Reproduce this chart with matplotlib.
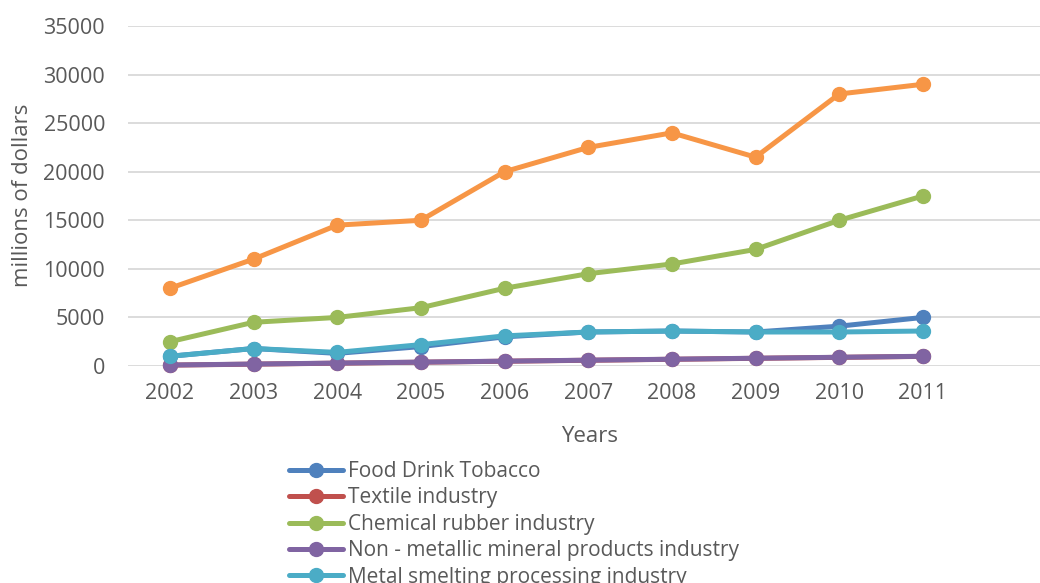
import matplotlib
matplotlib.use("Agg")
import matplotlib.pyplot as plt

years = ["2002", "2003", "2004", "2005", "2006", "2007", "2008", "2009", "2010", "2011"]
food = [1000, 1800, 1300, 2000, 3000, 3500, 3600, 3500, 4100, 5000]
textile = [90, 190, 290, 390, 490, 590, 690, 790, 890, 990]
chemical = [2500, 4500, 5000, 6000, 8000, 9500, 10500, 12000, 15000, 17500]
nonmetal = [100, 200, 300, 400, 500, 600, 700, 800, 900, 1000]
metal = [1000, 1800, 1400, 2200, 3100, 3500, 3600, 3500, 3500, 3600]
machinery = [8000, 11000, 14500, 15000, 20000, 22500, 24000, 21500, 28000, 29000]

names = ["Food Drink Tobacco", "Textile industry", "Chemical rubber industry",
         "Non - metallic mineral products industry", "Metal smelting processing industry",
         "Machinery equipment industry"]
series = [food, textile, chemical, nonmetal, metal, machinery]
colors = ["#4F81BD", "#C0504D", "#9BBB59", "#8064A2", "#4BACC6", "#F79646"]

plt.rcParams['font.family'] = ['Open Sans', 'DejaVu Sans']
txt = "#595959"

W, H = 1040, 583
fig = plt.figure(figsize=(W / 100, H / 100), dpi=100)
ax = fig.add_axes([128 / W, (H - 366) / H, (W - 128) / W, 340 / H])

x = list(range(len(years)))
handles = []
for s, c, n in zip(series, colors, names):
    h, = ax.plot(x, s, color=c, lw=3.6, marker='o', ms=10, label=n,
                 solid_capstyle='round', solid_joinstyle='round', clip_on=False)
    handles.append(h)

ax.set_xlim(-0.5, 10.4)
ax.set_ylim(0, 35000)
ax.set_yticks(range(0, 35001, 5000))
ax.set_xticks(x)
ax.set_xticklabels(years)
ax.yaxis.grid(True, color="#D9D9D9", lw=1.3)
ax.set_axisbelow(True)
for sp in ax.spines.values():
    sp.set_visible(False)
ax.tick_params(axis='both', length=0, labelsize=15.5, colors=txt)
ax.tick_params(axis='y', pad=16.5)
ax.tick_params(axis='x', pad=12)

fig.text(590 / W, 1 - 436 / H, "Years", ha='center', va='center', fontsize=16, color=txt)
fig.text(23 / W, 1 - 195 / H, "millions of dollars", ha='center', va='center', fontsize=16,
         color=txt, rotation=90)

fig.legend(handles=handles, loc='upper left', bbox_to_anchor=(289 / W, 1 - 461 / H),
           frameon=False, fontsize=15, labelcolor=txt, handlelength=2.6,
           handletextpad=0.25, labelspacing=0.26, borderpad=0, borderaxespad=0)

fig.savefig("out.png", dpi=100)
